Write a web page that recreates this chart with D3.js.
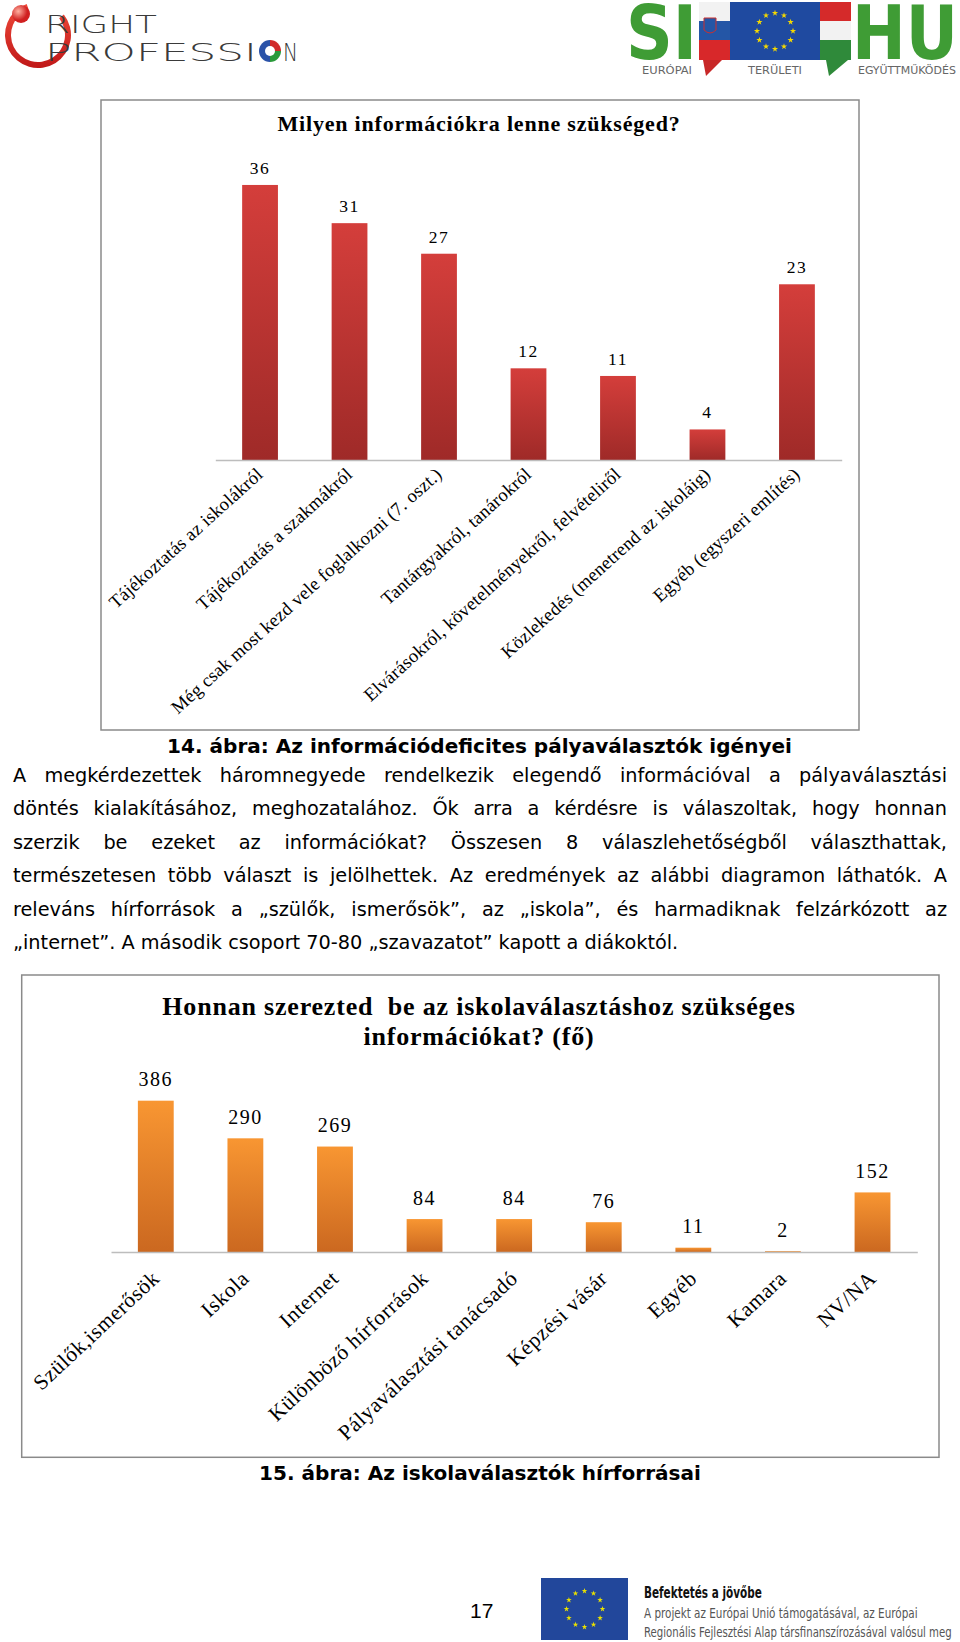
<!DOCTYPE html>
<html><head><meta charset="utf-8">
<script src="https://cdn.jsdelivr.net/npm/d3@7/dist/d3.min.js"></script>
<style>body{margin:0;background:#fff} svg{display:block}</style>
</head><body>
<svg id="page" width="960" height="1642"></svg>
<script>
// ---------- data ----------
const chart1Title = "Milyen információkra lenne szükséged?";
const chart1Categories = [
  "Tájékoztatás az iskolákról",
  "Tájékoztatás a szakmákról",
  "Még csak most kezd vele foglalkozni (7. oszt.)",
  "Tantárgyakról, tanárokról",
  "Elvárásokról, követelményekről, felvételiről",
  "Közlekedés (menetrend az iskoláig)",
  "Egyéb (egyszeri említés)"
];
const chart1Values = [36, 31, 27, 12, 11, 4, 23];

const chart2TitleLines = ["Honnan szerezted  be az iskolaválasztáshoz szükséges", "információkat? (fő)"];
const chart2Categories = [
  "Szülők,ismerősök", "Iskola", "Internet", "Különböző hírforrások",
  "Pályaválasztási tanácsadó", "Képzési vásár", "Egyéb", "Kamara", "NV/NA"
];
const chart2Values = [386, 290, 269, 84, 84, 76, 11, 2, 152];

const caption1 = "14. ábra: Az információdeficites pályaválasztók igényei";
const caption2 = "15. ábra: Az iskolaválasztók hírforrásai";
const bodyLines = [
  "A megkérdezettek háromnegyede rendelkezik elegendő információval a pályaválasztási",
  "döntés kialakításához, meghozatalához. Ők arra a kérdésre is válaszoltak, hogy honnan",
  "szerzik be ezeket az információkat? Összesen 8 válaszlehetőségből választhattak,",
  "természetesen több választ is jelölhettek. Az eredmények az alábbi diagramon láthatók. A",
  "releváns hírforrások a „szülők, ismerősök”, az „iskola”, és harmadiknak felzárkózott az",
  "„internet”. A második csoport 70-80 „szavazatot” kapott a diákoktól."
];
const pageNumber = "17";
const footerLines = ["Befektetés a jövőbe", "A projekt az Európai Unió támogatásával, az Európai", "Regionális Fejlesztési Alap társfinanszírozásával valósul meg"];

// ---------- drawing ----------
const svg = d3.select("#page");
const defs = svg.append("defs");
function vgrad(id, top, bottom) {
  const g = defs.append("linearGradient").attr("id", id).attr("x1", 0).attr("y1", 0).attr("x2", 0).attr("y2", 1);
  g.append("stop").attr("offset", "0%").attr("stop-color", top);
  g.append("stop").attr("offset", "100%").attr("stop-color", bottom);
}
vgrad("redG", "#d43e3b", "#9f2a28");
vgrad("orangeG", "#f89632", "#cb6820");

const SERIF = "'Liberation Serif','Times New Roman',serif";
const SANS = "'DejaVu Sans',Verdana,sans-serif";
const COND = "'DejaVu Sans Condensed','Liberation Sans Narrow','DejaVu Sans',sans-serif";

// text fitted to a given width by a horizontal scale
function fitText(parent, str, x, y, width, attrs, anchor) {
  const t = parent.append("text").attr("x", 0).attr("y", 0).text(str);
  Object.entries(attrs).forEach(([k, v]) => t.attr(k, v));
  const w = t.node().getComputedTextLength();
  const s = width / w;
  t.attr("text-anchor", anchor || "start").attr("transform", `translate(${x},${y}) scale(${s},1)`);
  return t;
}

// ===== header logos =====
const hdr = svg.append("g");
vgrad("ringG", "#f04a3a", "#c01818");
const ringArc = d3.arc().innerRadius(27).outerRadius(33).startAngle(0.9).endAngle(2 * Math.PI - 0.35);
hdr.append("path").attr("d", ringArc()).attr("transform", "translate(38,35)").attr("fill", "url(#ringG)");
const rg = defs.append("radialGradient").attr("id", "ballG").attr("cx", "35%").attr("cy", "35%");
rg.append("stop").attr("offset", "0%").attr("stop-color", "#ffb0a0");
rg.append("stop").attr("offset", "100%").attr("stop-color", "#d02020");
hdr.append("circle").attr("cx", 21).attr("cy", 14).attr("r", 9).attr("fill", "url(#ballG)");
const logoTxt = { "font-family": SANS, "font-weight": 300, "font-size": 25, "fill": "#3a3a3a" };
fitText(hdr, "RIGHT", 45, 33, 112, logoTxt);
fitText(hdr, "PROFESSI", 45, 61, 212, logoTxt);
const oc = hdr.append("g").attr("transform", "translate(270,51)");
oc.append("path").attr("d", d3.arc().innerRadius(0).outerRadius(11).startAngle(Math.PI).endAngle(2 * Math.PI)()).attr("fill", "#2a52a8");
oc.append("path").attr("d", d3.arc().innerRadius(0).outerRadius(11).startAngle(0).endAngle(Math.PI / 2)()).attr("fill", "#d02a2a");
oc.append("path").attr("d", d3.arc().innerRadius(0).outerRadius(11).startAngle(Math.PI / 2).endAngle(Math.PI)()).attr("fill", "#2a9a3a");
oc.append("circle").attr("r", 5).attr("fill", "#fff");
fitText(hdr, "N", 283, 61, 15, logoTxt);

// SI-HU logo
const GREEN = "#3f9c35";
const bigTxt = { "font-family": COND, "font-weight": "bold", "font-size": 58, "fill": GREEN };
fitText(hdr, "SI", 626, 0, 71, bigTxt).attr("transform", function () {
  return d3.select(this).attr("transform").replace("translate(626,0)", "translate(626,59)").replace(",1)", ",1.3)");
});
fitText(hdr, "HU", 852, 0, 106, bigTxt).attr("transform", function () {
  return d3.select(this).attr("transform").replace("translate(852,0)", "translate(852,59)").replace(",1)", ",1.3)");
});
const sv = hdr.append("g");
sv.append("rect").attr("x", 699).attr("y", 2).attr("width", 31).attr("height", 19).attr("fill", "#f2f2f2");
sv.append("rect").attr("x", 699).attr("y", 21).attr("width", 31).attr("height", 19).attr("fill", "#2456a6");
sv.append("rect").attr("x", 699).attr("y", 40).attr("width", 31).attr("height", 20).attr("fill", "#d8282a");
sv.append("path").attr("d", "M704,18 L716,18 L716,30 Q710,36 704,30 Z").attr("fill", "#2456a6").attr("stroke", "#c83030").attr("stroke-width", 1);
sv.append("path").attr("d", "M703,60 L722,60 L706,76 Z").attr("fill", "#c82828");
hdr.append("rect").attr("x", 730).attr("y", 2).attr("width", 90).attr("height", 58).attr("fill", "#1f4aa0");
const star = d3.symbol().type(d3.symbolStar).size(12);
d3.range(12).forEach(i => {
  const a = i * Math.PI / 6;
  hdr.append("path").attr("d", star()).attr("fill", "#f4d800")
    .attr("transform", `translate(${775 + 18 * Math.sin(a)},${31 - 18 * Math.cos(a)})`);
});
const hu = hdr.append("g");
hu.append("rect").attr("x", 820).attr("y", 2).attr("width", 31).attr("height", 19).attr("fill", "#d52a2a");
hu.append("rect").attr("x", 820).attr("y", 21).attr("width", 31).attr("height", 19).attr("fill", "#f2f2f2");
hu.append("rect").attr("x", 820).attr("y", 40).attr("width", 31).attr("height", 20).attr("fill", "#2f8a3a");
hu.append("path").attr("d", "M826,60 L848,60 L829,76 Z").attr("fill", "#2f8a3a");
const subTxt = { "font-family": COND, "font-size": 10, "fill": "#666" };
[["EURÓPAI", 642, 50], ["TERÜLETI", 748, 54], ["EGYÜTTMŰKÖDÉS", 858, 98]].forEach(([t, x, w]) => {
  fitText(hdr, t, x, 74, w, subTxt);
});

// ===== generic bar chart =====
function barChart(opt) {
  const g = svg.append("g");
  g.append("rect").attr("x", opt.box[0]).attr("y", opt.box[1]).attr("width", opt.box[2]).attr("height", opt.box[3])
    .attr("fill", "#fff").attr("stroke", "#8a8a8a").attr("stroke-width", 1.5);
  opt.titles.forEach((t, i) => {
    g.append("text").attr("x", opt.titleX).attr("y", opt.titleY[i]).attr("text-anchor", "middle")
      .attr("font-family", SERIF).attr("font-weight", "bold").attr("font-size", opt.titleSize)
      .attr("letter-spacing", opt.titleSpacing).attr("fill", "#000")
      .style("white-space", "pre").text(t);
  });
  const x = d3.scaleBand().domain(opt.categories).range(opt.xRange).paddingInner(0.6).paddingOuter(0.3);
  const y = d3.scaleLinear().domain(opt.yDomain).range(opt.yRange);
  g.selectAll("rect.bar").data(opt.values).join("rect").attr("class", "bar")
    .attr("x", (d, i) => x(opt.categories[i])).attr("width", x.bandwidth())
    .attr("y", d => y(d)).attr("height", d => y(0) - y(d)).attr("fill", opt.fill);
  const ax = g.append("g").attr("transform", `translate(0,${y(0)})`)
    .call(d3.axisBottom(x).tickSize(0).tickSizeOuter(0));
  ax.select(".domain").attr("stroke", "#bdbdbd").attr("stroke-width", 1.3);
  ax.selectAll(".tick text").attr("y", 0).attr("dy", 0).attr("x", 0)
    .attr("text-anchor", "end").attr("font-family", SERIF).attr("font-size", opt.labelSize)
    .attr("letter-spacing", opt.labelSpacing).attr("fill", "#000")
    .attr("transform", `translate(${opt.labelDx},${opt.labelDy}) rotate(${opt.labelAngle})`);
  g.selectAll("text.val").data(opt.values).join("text").attr("class", "val")
    .attr("x", (d, i) => x(opt.categories[i]) + x.bandwidth() / 2)
    .attr("y", d => y(d) - opt.valGap).attr("text-anchor", "middle")
    .attr("font-family", SERIF).attr("font-size", opt.valSize).attr("letter-spacing", opt.valSpacing)
    .attr("fill", "#000").text(d => d);
}

barChart({
  box: [101, 100, 758, 630],
  titles: [chart1Title], titleX: 479, titleY: [131], titleSize: 22, titleSpacing: 0.8,
  categories: chart1Categories, values: chart1Values,
  xRange: [215.3, 841.7], yDomain: [0, 40], yRange: [460, 154.4],
  fill: "url(#redG)", labelSize: 18.6, labelSpacing: 0.2, labelDx: 4, labelDy: 16, labelAngle: -42,
  valGap: 11, valSize: 17.5, valSpacing: 1.5
});

barChart({
  box: [21.7, 975, 917.3, 482.3],
  titles: chart2TitleLines, titleX: 479, titleY: [1015, 1045], titleSize: 26, titleSpacing: 0.8,
  categories: chart2Categories, values: chart2Values,
  xRange: [111, 917.3], yDomain: [0, 450], yRange: [1252, 1075.6],
  fill: "url(#orangeG)", labelSize: 21.5, labelSpacing: 0.6, labelDx: 5, labelDy: 28, labelAngle: -43,
  valGap: 14.5, valSize: 20, valSpacing: 1.5
});

// ===== captions =====
const capTxt = { "font-family": SANS, "font-weight": "bold", "font-size": 19.5, "fill": "#000" };
fitText(svg, caption1, 479.5, 753, 625, capTxt, "middle");
fitText(svg, caption2, 480, 1480, 442, capTxt, "middle");

// ===== body paragraph (justified) =====
const body = svg.append("g").attr("font-family", SANS).attr("font-size", 19.3).attr("fill", "#000");
const X0 = 13, X1 = 947;
const baseY = 782, lineStep = 33.4;
bodyLines.forEach((line, li) => {
  const yb = baseY + li * lineStep;
  const words = line.split(" ");
  const nodes = words.map(w => body.append("text").attr("y", yb).text(w));
  const widths = nodes.map(n => n.node().getComputedTextLength());
  const total = d3.sum(widths);
  const last = li === bodyLines.length - 1;
  const gap = last ? 19.3 * 0.318 : (X1 - X0 - total) / (words.length - 1);
  let xx = X0;
  nodes.forEach((n, i) => { n.attr("x", xx); xx += widths[i] + gap; });
});

// ===== footer =====
svg.append("text").attr("x", 470).attr("y", 1618).attr("font-family", "'Liberation Sans',Arial,sans-serif")
  .attr("font-size", 21).attr("fill", "#000").text(pageNumber);
svg.append("rect").attr("x", 541).attr("y", 1578).attr("width", 87).attr("height", 62).attr("fill", "#22479b");
d3.range(12).forEach(i => {
  const a = i * Math.PI / 6;
  svg.append("path").attr("d", d3.symbol().type(d3.symbolStar).size(10)()).attr("fill", "#e8e000")
    .attr("transform", `translate(${584.5 + 18 * Math.sin(a)},${1609 - 18 * Math.cos(a)})`);
});
fitText(svg, footerLines[0], 644, 1598, 118, { "font-family": COND, "font-weight": "bold", "font-size": 15, "fill": "#111" });
fitText(svg, footerLines[1], 644, 1618, 274, { "font-family": COND, "font-size": 14, "fill": "#555" });
fitText(svg, footerLines[2], 644, 1637, 308, { "font-family": COND, "font-size": 14, "fill": "#555" });
</script>
</body></html>
